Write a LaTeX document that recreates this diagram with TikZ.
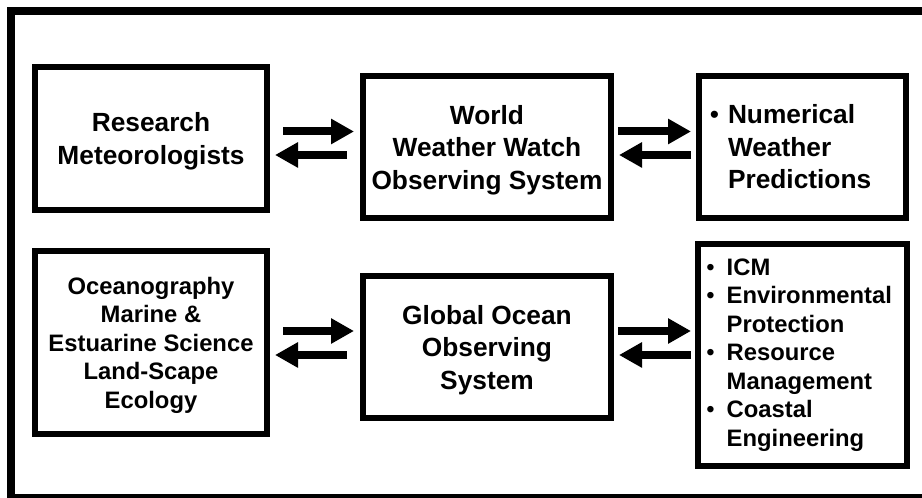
\documentclass[tikz,border=0pt]{standalone}
\usepackage{fontspec}
\setmainfont{Liberation Sans}
\usetikzlibrary{arrows.meta}
\newcommand{\bigtxt}{\fontsize{26.3}{32.5}\selectfont\bfseries}
\newcommand{\smalltxt}{\fontsize{23.8}{28.5}\selectfont\bfseries}
\newcommand{\bul}[1]{\leavevmode\llap{{\mdseries\textbullet}\hspace{#1}}}

\begin{document}
\begin{tikzpicture}[x=1pt, y=1pt,
  box/.style={draw, line width=6pt, inner sep=0pt, font=\bigtxt},
  midbox/.style={box, align=center, text depth=0pt},
  listbox/.style={box, align=left},
  fat/.style={line width=8pt, -{Triangle[length=23pt,width=24pt]}}]
  \useasboundingbox (0,0) rectangle (922,498);
  \fill[white] (0,0) rectangle (922,498);
  \clip (0,0) rectangle (922,498);
  % outer frame, cut off at the right and bottom
  \draw[line width=8pt] (11,0) rectangle (930,487);
  % upper row
  \node[midbox, minimum width=232pt, minimum height=143pt] (rm) at (151,359.5) {Research\\Meteorologists};
  \node[midbox, minimum width=248pt, minimum height=142pt] (www) at (487,351) {World\\Weather Watch\\Observing System};
  \node[listbox, minimum width=207pt, minimum height=142pt, text width=149pt, inner xsep=29pt] (nwp) at (802.5,351)
    {\bul{9pt}Numerical\\Weather\\Predictions};
  % lower row
  \node[midbox, font=\smalltxt, minimum width=232pt, minimum height=183pt] (ocean) at (151,155.5)
    {Oceanography\\Marine \&\\Estuarine Science\\Land-Scape\\Ecology};
  \node[midbox, minimum width=248pt, minimum height=142pt] (goos) at (487,151) {Global Ocean\\Observing\\System};
  \node[listbox, font=\smalltxt, minimum width=209pt, minimum height=222pt, text width=151.6pt, inner xsep=28.7pt] (coast) at (802.5,143)
    {\bul{12pt}ICM\\\bul{12pt}Environmental\\Protection\\\bul{12pt}Resource\\Management\\\bul{12pt}Coastal\\Engineering};
  % arrows between the boxes
  \draw[fat] ([shift={(13pt,7pt)}]rm.east) -- ([shift={(-6pt,15.5pt)}]www.west);
  \draw[fat] ([shift={(-13pt,-8pt)}]www.west) -- ([shift={(5pt,-16.5pt)}]rm.east);
  \draw[fat] ([shift={(4pt,15.5pt)}]www.east) -- ([shift={(-5pt,15.5pt)}]nwp.west);
  \draw[fat] ([shift={(-5pt,-8pt)}]nwp.west) -- ([shift={(5pt,-8pt)}]www.east);
  \draw[fat] ([shift={(13pt,11.5pt)}]ocean.east) -- ([shift={(-6pt,16pt)}]goos.west);
  \draw[fat] ([shift={(-13pt,-8pt)}]goos.west) -- ([shift={(5pt,-12.5pt)}]ocean.east);
  \draw[fat] ([shift={(4pt,16pt)}]goos.east) -- ([shift={(-4pt,24pt)}]coast.west);
  \draw[fat] ([shift={(-4pt,0pt)}]coast.west) -- ([shift={(5pt,-8pt)}]goos.east);
\end{tikzpicture}
\end{document}
